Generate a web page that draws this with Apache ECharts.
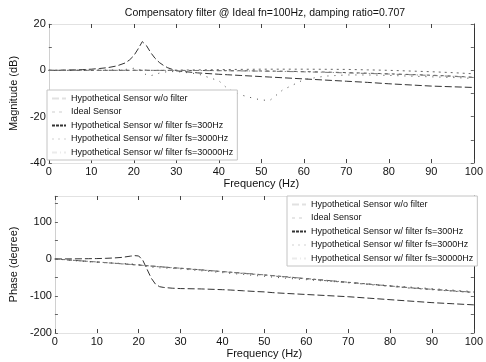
<!DOCTYPE html>
<html>
<head>
<meta charset="utf-8">
<script src="https://cdn.jsdelivr.net/npm/echarts@6/dist/echarts.min.js"></script>
<style>
  html, body { margin: 0; padding: 0; background: #fff; }
  #main { width: 486px; height: 362px; }
</style>
</head>
<body>
<div id="main"></div>
<script>
var freq = [0, 2, 4, 6, 8, 10, 12, 14, 16, 18, 19, 20, 21, 22, 23, 24, 25, 26, 27, 28,
            30, 35, 40, 42, 45, 48, 50, 52, 55, 60, 65, 70, 75, 80, 85, 90, 95, 100];

var seriesNames = ['Hypothetical Sensor w/o filter', 'Ideal Sensor',
  'Hypothetical Sensor w/ filter fs=300Hz', 'Hypothetical Sensor w/ filter fs=3000Hz',
  'Hypothetical Sensor w/ filter fs=30000Hz'];

// magnitude (dB)
var magNoFilter = [0, 0, 0.1, 0.2, 0.3, 0.5, 0.8, 1.2, 1.9, 3.2, 4.5, 6.3, 9.2, 12.4, 10.6, 7.6, 5.2, 3.4, 2.1, 1.1,
                   -0.2, -1.1, -1.7, -1.9, -2.2, -2.5, -2.7, -2.9, -3.2, -3.7, -4.2, -4.7, -5.2, -5.8, -6.3, -6.8, -7.1, -7.4];
var magIdeal = [0, 0, 0, 0, 0, 0, 0, 0, 0, 0, 0, 0, 0, 0, 0, -0.01, -0.02, -0.02, -0.02, -0.03,
                -0.04, -0.06, -0.11, -0.13, -0.18, -0.23, -0.26, -0.31, -0.38, -0.54, -0.74, -0.97, -1.23, -1.5, -1.8, -2.1, -2.5, -3.0];
var magFs300 = [0, 0, 0, 0, 0, 0, 0.1, 0.1, 0.2, 0.4, 0.6, 0.9, 0.6, -0.8, -2.0, -2.3, -1.8, -1.2, -0.8, -0.6,
                -0.5, -1.5, -4.5, -7.8, -10.5, -12.0, -12.8, -13.0, -8.5, -4.0, -2.5, -2.0, -2.0, -2.2, -2.5, -2.8, -3.1, -3.5];
var magFs3000 = [0, 0, 0, 0, 0, 0, 0, 0, 0, 0, 0, 0, 0.1, 0.2, 0.1, 0, 0, 0, 0, 0,
                 0.1, 0.2, 0.3, 0.35, 0.4, 0.45, 0.5, 0.5, 0.5, 0.5, 0.45, 0.4, 0.2, 0, -0.3, -0.6, -1.0, -1.5];
var magFs30000 = [0, 0, 0, 0, 0, 0, 0, 0, 0, 0, 0, 0, 0, 0, 0, -0.01, -0.02, -0.03, -0.03, -0.04,
                  -0.05, -0.08, -0.15, -0.18, -0.25, -0.3, -0.35, -0.4, -0.48, -0.65, -0.85, -1.1, -1.35, -1.6, -1.9, -2.2, -2.6, -3.1];

// phase (degree)
var phNoFilter = [0, 0, 0.2, 0.4, 0.7, 1, 1.6, 2.6, 4.2, 7.5, 9, 8, -4, -28, -52, -68, -75, -77, -78, -79,
                  -80, -81, -83, -84, -86, -88, -89, -91, -93, -96, -99, -102, -106, -110, -114, -118, -121, -124];
var phIdeal = [0, -1.6, -3.2, -4.9, -6.5, -8.1, -9.8, -11.4, -13.1, -14.8, -15.6, -16.5, -17.4, -18.2, -19.1, -20, -20.9, -21.8, -22.7, -23.6,
               -25, -29.5, -34, -35.8, -38.5, -41.3, -43, -45, -48, -53, -58, -63, -68, -73, -78, -82, -86, -90];
var phFs300 = [0, -2, -4, -6, -8, -9, -10, -11, -12, -13, -14, -15, -17, -20, -22, -23, -24, -24.5, -25, -25.5,
               -27, -32, -37, -39, -42, -45, -47, -49, -52, -56, -60, -64, -68, -72, -76, -80, -84, -88];
var phFs3000 = [0, -1.7, -3.4, -5, -6.7, -8.3, -10, -11.7, -13.4, -15, -15.9, -16.8, -17.7, -18.6, -19.5, -20.4, -21.3, -22.2, -23.1, -24,
                -25.5, -30, -34.6, -36.4, -39.2, -42, -43.8, -45.8, -48.9, -54, -59, -64, -69, -74, -79, -83, -87, -91];
var phFs30000 = [0, -1.6, -3.2, -4.9, -6.5, -8.1, -9.8, -11.4, -13.1, -14.8, -15.6, -16.5, -17.4, -18.2, -19.1, -20, -20.9, -21.8, -22.7, -23.6,
                 -25, -29.5, -34, -35.8, -38.5, -41.3, -43, -45, -48, -53, -58, -63, -68, -73, -78, -82, -86, -90];

var magData = [magNoFilter, magIdeal, magFs300, magFs3000, magFs30000];
var phData = [phNoFilter, phIdeal, phFs300, phFs3000, phFs30000];

var fontFam = "'Liberation Sans', Arial, sans-serif";
var lineTypes = [[7, 3], [3, 4], [1, 6], [2, 4], [5, 3, 1, 3]];
var lineColors = ['#333', '#555', '#444', '#666', '#777'];

function pairs(ys) {
  return freq.map(function (f, i) { return [f, ys[i]]; });
}

var series = [];
seriesNames.forEach(function (name, k) {
  [0, 1].forEach(function (g) {
    series.push({
      name: name,
      type: 'line',
      xAxisIndex: g * 2,
      yAxisIndex: g * 2,
      data: pairs(g === 0 ? magData[k] : phData[k]),
      symbol: 'none',
      silent: true,
      lineStyle: { color: lineColors[k], width: 1, type: lineTypes[k] },
      itemStyle: { color: lineColors[k] }
    });
  });
});

function legendData() {
  return seriesNames.map(function (n, k) {
    return {
      name: n,
      itemStyle: { opacity: 0 },
      lineStyle: k === 2 ? { opacity: 1, type: [3, 1], color: '#333' } : { opacity: 0.15 }
    };
  });
}

function xAx(grid, pos, showLabel, name) {
  return {
    type: 'value', gridIndex: grid, position: pos,
    min: 0, max: 100, interval: 10,
    name: name, nameLocation: 'middle', nameGap: 15,
    nameTextStyle: { fontFamily: fontFam, fontSize: 11, color: '#111' },
    axisLine: { show: true, onZero: false, lineStyle: { color: '#e2e2e2' } },
    axisTick: { show: true, inside: true, length: 4, lineStyle: { color: '#444' } },
    axisLabel: { show: showLabel, margin: 3, fontFamily: fontFam, fontSize: 11, color: '#111' },
    splitLine: { show: false }
  };
}

function yAx(grid, pos, min, max, interval, labelStep, name) {
  return {
    type: 'value', gridIndex: grid, position: pos,
    min: min, max: max, interval: interval,
    name: name, nameLocation: 'middle', nameGap: 27,
    nameTextStyle: { fontFamily: fontFam, fontSize: 11, color: '#111' },
    axisLine: { show: true, onZero: false, lineStyle: { color: pos === 'right' ? '#333' : '#d0d0d0' } },
    axisTick: { show: true, inside: true, length: 3, lineStyle: { color: '#666' } },
    axisLabel: {
      show: pos === 'left', margin: 3, fontFamily: fontFam, fontSize: 11, color: '#111',
      formatter: function (v) { return v % labelStep === 0 ? String(v) : ''; }
    },
    splitLine: { show: false }
  };
}

var legendBase = {
  orient: 'vertical',
  itemWidth: 14, itemHeight: 9, itemGap: 4.5,
  borderColor: '#c4c4c4', borderWidth: 1,
  padding: [4, 4, 3, 4],
  selectedMode: false,
  backgroundColor: '#fff',
  textStyle: { fontFamily: fontFam, fontSize: 9, color: '#111' }
};

var chart = echarts.init(document.getElementById('main'), null, { renderer: 'canvas' });
chart.setOption({
  animation: false,
  backgroundColor: '#fff',
  title: {
    text: 'Compensatory filter @ Ideal fn=100Hz, damping ratio=0.707',
    left: 260, top: 3, textAlign: 'center',
    textStyle: { fontFamily: fontFam, fontSize: 10.5, fontWeight: 'normal', color: '#111' }
  },
  legend: [
    Object.assign({}, legendBase, { left: 47, top: 90, data: legendData() }),
    Object.assign({}, legendBase, { left: 287, top: 196, data: legendData() })
  ],
  grid: [
    { left: 45, right: 12, top: 24, height: 139 },
    { left: 45, right: 12, top: 196, height: 137 }
  ],
  xAxis: [
    xAx(0, 'bottom', true, 'Frequency (Hz)'),
    xAx(0, 'top', false, ''),
    xAx(1, 'bottom', true, 'Frequency (Hz)'),
    xAx(1, 'top', false, '')
  ],
  yAxis: [
    yAx(0, 'left', -40, 20, 10, 20, 'Magnitude (dB)'),
    yAx(0, 'right', -40, 20, 10, 20, ''),
    yAx(1, 'left', -200, 170, 50, 100, 'Phase (degree)'),
    yAx(1, 'right', -200, 170, 50, 100, '')
  ],
  series: series
});
</script>
</body>
</html>
